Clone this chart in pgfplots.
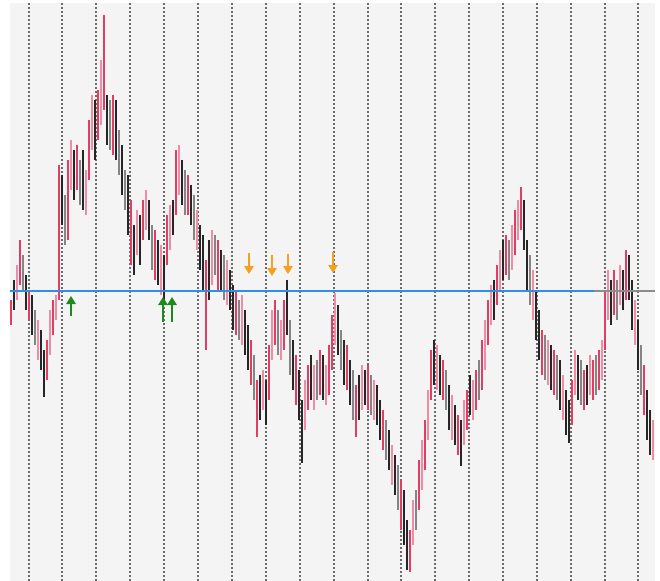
\documentclass[border=0pt]{standalone}
\usepackage{pgfplots}
\usepackage{pgfplotstable}
\pgfplotsset{compat=1.18}
\usetikzlibrary{arrows.meta}
\definecolor{bgc}{HTML}{F4F4F4}
\definecolor{upD}{HTML}{E23D63}
\definecolor{upL}{HTML}{F08CA3}
\definecolor{dnD}{HTML}{262626}
\definecolor{dnL}{HTML}{858585}
\definecolor{lvl}{HTML}{2E8EF0}
\definecolor{buyc}{HTML}{1E8A1E}
\definecolor{sellc}{HTML}{F5A020}

% bars: x, top, bottom (screen y, axis reversed), c: 1 up, 2 up light, 3 down, 4 down light
\pgfplotstableread{
x top bot c
11 300 325 1
14 280 310 3
17 265 300 2
20 240 285 1
23 255 290 4
26 275 310 3
29 290 320 1
32 295 335 3
35 310 345 4
38 320 360 2
41 330 370 3
44 350 397 3
47 340 380 1
50 310 355 2
53 300 335 1
56 295 320 2
59 165 300 1
62 175 225 3
65 195 245 4
68 160 240 1
71 140 190 2
74 150 200 3
77 145 190 1
80 160 205 4
83 150 210 3
86 170 215 2
89 120 180 1
92 95 150 2
95 100 160 3
98 90 140 1
101 60 125 2
104 15 110 1
107 95 145 3
110 100 150 4
113 95 155 1
116 100 160 3
119 130 175 4
122 145 195 3
125 170 210 4
128 175 235 3
131 200 265 1
134 225 275 3
137 210 255 2
140 215 265 3
143 200 240 1
146 190 230 2
149 200 240 3
152 225 270 4
155 230 280 1
158 240 285 3
161 245 295 2
164 255 300 3
167 215 265 1
170 205 250 2
173 200 235 3
176 150 215 1
179 145 195 2
182 160 205 3
185 170 215 4
188 175 215 1
191 185 225 3
194 195 240 4
197 210 250 2
200 225 270 3
203 235 290 3
206 260 350 1
209 240 300 3
212 230 285 2
215 235 275 4
218 240 290 1
221 250 290 3
224 255 300 4
227 260 305 2
230 270 310 3
233 285 330 3
236 290 335 1
239 300 340 4
242 295 345 2
245 310 355 3
248 325 370 3
251 340 385 1
254 355 400 4
257 380 437 1
260 375 420 3
263 370 410 2
266 380 425 3
269 345 400 1
272 310 360 2
275 300 345 1
278 310 355 4
281 320 360 2
284 300 350 1
287 280 335 3
290 320 375 4
293 340 390 3
296 355 405 1
299 370 420 3
302 400 463 3
305 380 430 2
308 365 410 1
311 355 400 3
314 365 410 2
317 360 400 4
320 350 395 1
323 355 400 3
326 365 405 2
329 345 395 1
332 315 370 1
335 293 345 2
338 305 355 3
341 330 370 4
344 340 385 3
347 345 390 1
350 360 405 3
353 370 420 4
356 385 437 1
359 375 420 3
362 365 410 2
365 370 405 3
368 365 410 1
371 375 415 4
374 380 420 2
377 385 425 3
380 400 440 3
383 410 450 1
386 420 460 4
389 430 470 3
392 445 485 2
395 455 495 3
398 465 510 4
401 480 530 1
404 490 545 3
407 520 570 3
410 530 572 1
413 500 545 2
416 490 530 4
419 460 510 1
422 440 490 2
425 420 470 1
428 390 440 2
431 350 400 1
434 340 385 3
437 345 390 2
440 355 395 3
443 360 400 1
446 370 410 4
449 385 430 3
452 395 440 2
455 405 445 3
458 415 455 1
461 420 466 3
464 400 445 2
467 390 430 1
470 375 415 3
473 380 420 2
476 370 410 1
479 360 400 4
482 340 390 1
485 320 370 2
488 300 345 1
491 285 325 2
494 280 320 3
497 265 305 1
500 250 290 2
503 240 280 3
506 235 275 1
509 240 280 4
512 225 270 2
515 210 255 1
518 200 240 2
521 187 230 1
524 200 250 3
527 240 290 3
530 255 305 4
533 270 320 2
536 290 340 3
539 310 360 3
542 330 375 1
545 335 380 4
548 340 385 2
551 345 390 3
554 350 395 1
557 355 400 4
560 360 410 3
563 375 420 2
566 390 435 3
569 400 443 3
572 380 425 1
575 350 395 2
578 355 400 3
581 360 405 4
584 370 410 1
587 365 405 3
590 355 395 2
593 360 400 1
596 355 395 4
599 350 390 1
602 340 380 2
605 290 350 1
608 270 320 2
611 280 325 3
614 270 315 1
617 280 320 4
620 265 305 2
623 270 310 3
626 250 300 1
629 255 300 3
632 280 330 3
635 300 345 2
638 320 370 3
641 345 395 4
644 365 415 1
647 390 440 3
650 410 455 3
653 420 460 2
}\bars

\pgfplotstableread{
x y u v
71 316 0 -20
163 322 0 -25
172 322 0 -25
}\buys

\pgfplotstableread{
x y u v
249 253 0 21
272 255 0 21
288 254 0 20
333 252 0 21
}\sells

\begin{document}
\begin{tikzpicture}
\useasboundingbox (0,0) rectangle (495pt,435.75pt);
\begin{axis}[
  at={(7.5pt,0pt)}, anchor=south west,
  scale only axis,
  width=483.75pt, height=433.5pt,
  xmin=10, xmax=655, ymin=3, ymax=581,
  y dir=reverse,
  axis background/.style={fill=bgc},
  axis line style={draw=none},
  xtick={29,62,96,130,164,198,232,266,300,334,368,401,435,469,503,537,571,605,638},
  xticklabels={},
  ytick=\empty,
  major tick length=0pt,
  xmajorgrids,
  grid style={draw=black!58, line width=0.8pt, dash pattern=on 1.5pt off 1.5pt},
]
  \addplot[draw=none, mark=none, forget plot,
    restrict expr to domain={\thisrow{c}}{2:2},
    error bars/.cd, y dir=plus, y explicit, error mark=none,
    error bar style={draw=upL, line width=1.8pt}]
    table[x=x, y=top, y error expr=\thisrow{bot}-\thisrow{top}] {\bars};
  \addplot[draw=none, mark=none, forget plot,
    restrict expr to domain={\thisrow{c}}{4:4},
    error bars/.cd, y dir=plus, y explicit, error mark=none,
    error bar style={draw=dnL, line width=1.8pt}]
    table[x=x, y=top, y error expr=\thisrow{bot}-\thisrow{top}] {\bars};
  \addplot[draw=none, mark=none, forget plot,
    restrict expr to domain={\thisrow{c}}{1:1},
    error bars/.cd, y dir=plus, y explicit, error mark=none,
    error bar style={draw=upD, line width=1.4pt}]
    table[x=x, y=top, y error expr=\thisrow{bot}-\thisrow{top}] {\bars};
  \addplot[draw=none, mark=none, forget plot,
    restrict expr to domain={\thisrow{c}}{3:3},
    error bars/.cd, y dir=plus, y explicit, error mark=none,
    error bar style={draw=dnD, line width=1.4pt}]
    table[x=x, y=top, y error expr=\thisrow{bot}-\thisrow{top}] {\bars};

  % level line
  \addplot[lvl, line width=1.3pt, mark=none] coordinates {(10,291) (594,291)};
  \addplot[black!45, line width=0.8pt, mark=none] coordinates {(594,291) (655,291)};

  % signal arrows
  \addplot[buyc, line width=1.4pt, -{Triangle[length=6pt,width=7pt]},
    quiver={u=\thisrow{u}, v=\thisrow{v}}] table[x=x, y=y] {\buys};
  \addplot[sellc, line width=1.4pt, -{Triangle[length=6pt,width=7pt]},
    quiver={u=\thisrow{u}, v=\thisrow{v}}] table[x=x, y=y] {\sells};
\end{axis}
\end{tikzpicture}
\end{document}
